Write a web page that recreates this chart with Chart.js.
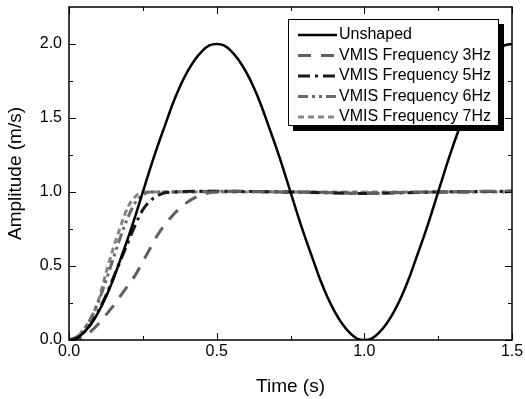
<!DOCTYPE html>
<html>
<head>
<meta charset="utf-8">
<script src="https://cdn.jsdelivr.net/npm/chart.js@4.4.0/dist/chart.umd.min.js"></script>
<style>
  html, body { margin: 0; padding: 0; background: #fff; }
  #wrap { width: 525px; height: 399px; }
</style>
</head>
<body>
<div id="wrap"><canvas id="chart"></canvas></div>
<script>
// data
const time = [0, 0.025, 0.05, 0.075, 0.1, 0.125, 0.15, 0.175, 0.2, 0.225, 0.25, 0.275, 0.3, 0.325, 0.35, 0.375, 0.4, 0.425, 0.45, 0.475,
  0.5, 0.525, 0.55, 0.575, 0.6, 0.625, 0.65, 0.675, 0.7, 0.725, 0.75, 0.775, 0.8, 0.825, 0.85, 0.875, 0.9, 0.925, 0.95, 0.975,
  1.0, 1.025, 1.05, 1.075, 1.1, 1.125, 1.15, 1.175, 1.2, 1.225, 1.25, 1.275, 1.3, 1.325, 1.35, 1.375, 1.4, 1.425, 1.45, 1.475, 1.5];
const unshaped = [0, 0.01, 0.05, 0.11, 0.19, 0.29, 0.41, 0.55, 0.69, 0.84, 1.0, 1.16, 1.31, 1.45, 1.59, 1.71, 1.81, 1.89, 1.95, 1.99,
  2.0, 1.99, 1.95, 1.89, 1.81, 1.71, 1.59, 1.45, 1.31, 1.16, 1.0, 0.84, 0.69, 0.55, 0.41, 0.29, 0.19, 0.11, 0.05, 0.01,
  0, 0.01, 0.05, 0.11, 0.19, 0.29, 0.41, 0.55, 0.69, 0.84, 1.0, 1.16, 1.31, 1.45, 1.59, 1.71, 1.81, 1.89, 1.95, 1.99, 2.0];

const t3 = [0, 0.025, 0.05, 0.075, 0.1, 0.125, 0.15, 0.175, 0.2, 0.225, 0.25, 0.275, 0.3, 0.325, 0.35, 0.375, 0.4, 0.425, 0.45, 0.475, 0.5, 0.6, 0.7, 0.8, 0.9, 1.0, 1.1, 1.2, 1.3, 1.4, 1.5];
const v3 = [0, 0.005, 0.02, 0.06, 0.11, 0.17, 0.23, 0.3, 0.37, 0.44, 0.53, 0.62, 0.71, 0.78, 0.84, 0.89, 0.93, 0.96, 0.98, 0.995, 1.0, 1.005, 1.0, 1.0, 0.995, 0.99, 0.995, 1.0, 1.0, 1.005, 1.005];

const t5 = [0, 0.025, 0.05, 0.075, 0.1, 0.125, 0.15, 0.175, 0.2, 0.225, 0.25, 0.275, 0.3, 0.325, 0.35, 0.5, 0.75, 1.0, 1.25, 1.5];
const v5 = [0, 0.01, 0.05, 0.11, 0.2, 0.3, 0.42, 0.54, 0.66, 0.78, 0.88, 0.94, 0.975, 0.995, 1.0, 1.005, 1.0, 0.99, 1.0, 1.005];

const t6 = [0, 0.025, 0.05, 0.075, 0.1, 0.125, 0.15, 0.175, 0.2, 0.225, 0.25, 0.275, 0.3, 0.5, 0.75, 1.0, 1.25, 1.5];
const v6 = [0, 0.02, 0.07, 0.15, 0.26, 0.4, 0.55, 0.7, 0.83, 0.93, 0.98, 1.0, 1.0, 1.005, 1.0, 0.995, 1.0, 1.005];

const t7 = [0, 0.025, 0.05, 0.075, 0.1, 0.125, 0.15, 0.175, 0.2, 0.225, 0.25, 0.5, 0.75, 1.0, 1.25, 1.5];
const v7 = [0, 0.02, 0.07, 0.15, 0.27, 0.45, 0.62, 0.77, 0.9, 0.97, 1.0, 1.0, 1.0, 1.0, 1.0, 1.0];

const labels = ['Unshaped', 'VMIS Frequency 3Hz', 'VMIS Frequency 5Hz', 'VMIS Frequency 6Hz', 'VMIS Frequency 7Hz'];

const xTicks = [0, 0.5, 1.0, 1.5];
const xMinor = [0.25, 0.75, 1.25];
const yTicks = [0, 0.5, 1.0, 1.5, 2.0];
const yMinor = [0.25, 0.75, 1.25, 1.75];

const pts = (t, v) => t.map((x, i) => ({ x: x, y: v[i] }));
const FONT = '"Liberation Sans", Arial, sans-serif';

// axis frame with inward ticks on all four sides
const frame = {
  id: 'frame',
  afterDatasetsDraw(chart) {
    const { ctx, chartArea: a, scales: { x, y } } = chart;
    ctx.save();
    ctx.strokeStyle = '#000';
    ctx.lineWidth = 1;
    ctx.beginPath();
    const xt = (vals, len) => vals.forEach(v => {
      const px = Math.round(x.getPixelForValue(v)) + 0.5;
      ctx.moveTo(px, a.bottom); ctx.lineTo(px, a.bottom - len);
      ctx.moveTo(px, a.top); ctx.lineTo(px, a.top + len);
    });
    const yt = (vals, len) => vals.forEach(v => {
      const py = Math.round(y.getPixelForValue(v)) + 0.5;
      ctx.moveTo(a.left, py); ctx.lineTo(a.left + len, py);
      ctx.moveTo(a.right, py); ctx.lineTo(a.right - len, py);
    });
    xt(xTicks, 7); xt(xMinor, 4);
    yt(yTicks, 7); yt(yMinor, 4);
    ctx.stroke();
    ctx.lineWidth = 1.5;
    ctx.strokeRect(a.left, a.top, a.right - a.left, a.bottom - a.top);
    ctx.restore();
  }
};

// boxed legend with a solid drop shadow, drawn last
const boxLegend = {
  id: 'boxLegend',
  afterDraw(chart) {
    const ctx = chart.ctx;
    const bx = 288, by = 19, bw = 211, bh = 107, sh = 5;
    ctx.save();
    ctx.fillStyle = '#000';
    ctx.fillRect(bx + bw, by + sh, sh, bh);
    ctx.fillRect(bx + sh, by + bh, bw, sh);
    ctx.fillStyle = '#fff';
    ctx.fillRect(bx, by, bw, bh);
    ctx.strokeStyle = '#000';
    ctx.lineWidth = 1;
    ctx.strokeRect(bx + 0.5, by + 0.5, bw - 1, bh - 1);

    ctx.font = '16px ' + FONT;
    ctx.textBaseline = 'middle';
    chart.data.datasets.forEach((ds, i) => {
      const ry = by + 16 + i * 20.5;
      ctx.strokeStyle = ds.borderColor;
      ctx.lineWidth = ds.borderWidth;
      ctx.setLineDash(ds.borderDash || []);
      ctx.beginPath();
      ctx.moveTo(298, ry); ctx.lineTo(337, ry);
      ctx.stroke();
      ctx.setLineDash([]);
      ctx.fillStyle = '#000';
      ctx.fillText(ds.label, 339, ry);
    });
    ctx.restore();
  }
};

const common = { pointRadius: 0, fill: false, cubicInterpolationMode: 'monotone' };

new Chart(document.getElementById('chart'), {
  type: 'line',
  data: {
    datasets: [
      { ...common, label: labels[0], data: pts(time, unshaped), borderColor: '#000000', borderWidth: 2.5 },
      { ...common, label: labels[1], data: pts(t3, v3), borderColor: '#606060', borderWidth: 3, borderDash: [13, 10] },
      { ...common, label: labels[2], data: pts(t5, v5), borderColor: '#1a1a1a', borderWidth: 3, borderDash: [12, 5, 3, 5] },
      { ...common, label: labels[3], data: pts(t6, v6), borderColor: '#6a6a6a', borderWidth: 3, borderDash: [10, 4, 3, 4, 3, 4] },
      { ...common, label: labels[4], data: pts(t7, v7), borderColor: '#858585', borderWidth: 3, borderDash: [6, 4] }
    ]
  },
  options: {
    responsive: true,
    maintainAspectRatio: false,
    animation: false,
    layout: { padding: { left: 0, right: 13, top: 7, bottom: 0 } },
    plugins: { legend: { display: false }, tooltip: { enabled: false } },
    scales: {
      x: {
        type: 'linear', min: 0, max: 1.5,
        afterFit: s => { s.height = 59; s.paddingLeft = 0; s.paddingRight = 0; },
        afterBuildTicks: s => { s.ticks = xTicks.map(v => ({ value: v })); },
        grid: { display: false, drawTicks: false },
        border: { display: false },
        ticks: { padding: 2, color: '#000', font: { size: 16, family: FONT }, maxRotation: 0,
          callback: v => v.toFixed(1) },
        title: { display: true, text: 'Time (s)', color: '#000', font: { size: 19, family: FONT },
          padding: { top: 0, bottom: 1 } }
      },
      y: {
        type: 'linear', min: 0, max: 2.25,
        afterFit: s => { s.width = 69; s.paddingTop = 0; s.paddingBottom = 0; },
        afterBuildTicks: s => { s.ticks = yTicks.map(v => ({ value: v })); },
        grid: { display: false, drawTicks: false },
        border: { display: false },
        ticks: { padding: 7, color: '#000', font: { size: 16, family: FONT },
          callback: v => v.toFixed(1) },
        title: { display: true, text: 'Amplitude (m/s)', color: '#000', font: { size: 19, family: FONT },
          padding: { top: 4, bottom: 0 } }
      }
    }
  },
  plugins: [frame, boxLegend]
});
</script>
</body>
</html>
